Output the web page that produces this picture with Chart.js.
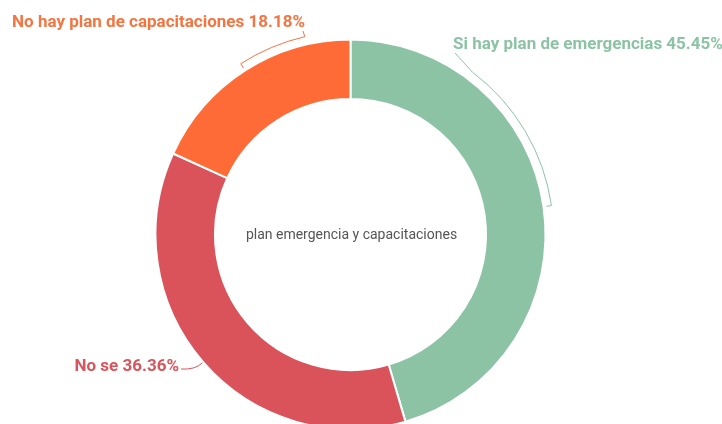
<!DOCTYPE html>
<html>
<head>
<meta charset="utf-8">
<script src="https://cdn.jsdelivr.net/npm/chart.js@4"></script>
<style>
  html, body { margin: 0; padding: 0; background: #fff; overflow: hidden; }
  #wrap { width: 722px; height: 424px; }
</style>
</head>
<body>
<div id="wrap"><canvas id="planChart"></canvas></div>
<script>
// datos
const categorias = ['Si hay plan de emergencias', 'No se', 'No hay plan de capacitaciones'];
const respuestas = [5, 4, 2];
const colores = ['#8cc3a5', '#da535a', '#ff6b36'];
const coloresTexto = ['#8cc3a5', '#d9545b', '#f5743f'];
const tituloCentro = 'plan emergencia y capacitaciones';

// donde va cada etiqueta (x, y del texto, alineacion, angulo donde termina el arco)
const posEtiquetas = [
    { x: 453, y: 45, align: 'left', conecta: 37, lx: 455, ly: 53 },
    { x: 179, y: 367, align: 'right', conecta: null, lx: 181, ly: 369 },
    { x: 305, y: 23, align: 'right', conecta: 347, lx: 303, ly: 31 }
];

const etiquetasPlugin = {
    id: 'etiquetas',
    afterDatasetsDraw(chart) {
        const ctx = chart.ctx;
        const meta = chart.getDatasetMeta(0);
        const total = respuestas.reduce((a, b) => a + b, 0);
        ctx.save();
        meta.data.forEach((arc, i) => {
            const p = posEtiquetas[i];
            const cx = arc.x, cy = arc.y;
            const r = arc.outerRadius + 8;
            const mid = (arc.startAngle + arc.endAngle) / 2;
            ctx.strokeStyle = coloresTexto[i];
            ctx.lineWidth = 1;
            ctx.beginPath();
            if (p.conecta !== null) {
                const fin = (p.conecta - 90) * Math.PI / 180;
                // marca pequena hacia dentro
                ctx.moveTo(cx + (r - 5) * Math.cos(mid), cy + (r - 5) * Math.sin(mid));
                ctx.lineTo(cx + r * Math.cos(mid), cy + r * Math.sin(mid));
                ctx.arc(cx, cy, r, mid, fin, fin < mid);
                ctx.lineTo(p.lx, p.ly);
            } else {
                const r2 = arc.outerRadius + 1;
                ctx.moveTo(cx + r2 * Math.cos(mid), cy + r2 * Math.sin(mid));
                ctx.quadraticCurveTo(p.lx + 14, p.ly + 1, p.lx, p.ly);
            }
            ctx.stroke();

            const pct = (respuestas[i] / total * 100).toFixed(2);
            ctx.fillStyle = coloresTexto[i];
            ctx.font = 'bold 17px Roboto';
            ctx.textAlign = p.align;
            ctx.textBaseline = 'middle';
            ctx.fillText(categorias[i] + ' ' + pct + '%', p.x, p.y);
        });

        ctx.fillStyle = '#555';
        ctx.font = '14px Roboto';
        ctx.textAlign = 'center';
        ctx.textBaseline = 'middle';
        ctx.fillText(tituloCentro, meta.data[0].x + 1, meta.data[0].y + 1);
        ctx.restore();
    }
};

const ctx = document.getElementById('planChart').getContext('2d');
const planChart = new Chart(ctx, {
    type: 'doughnut',
    data: {
        labels: categorias,
        datasets: [{
            data: respuestas,
            backgroundColor: colores,
            borderColor: '#fff',
            borderWidth: 2
        }]
    },
    options: {
        responsive: true,
        maintainAspectRatio: false,
        animation: false,
        radius: 195,
        cutout: 131,
        layout: {
            padding: { top: 45, bottom: 0, left: 0, right: 21 }
        },
        plugins: {
            legend: { display: false },
            tooltip: { enabled: false }
        }
    },
    plugins: [etiquetasPlugin]
});
</script>
</body>
</html>
